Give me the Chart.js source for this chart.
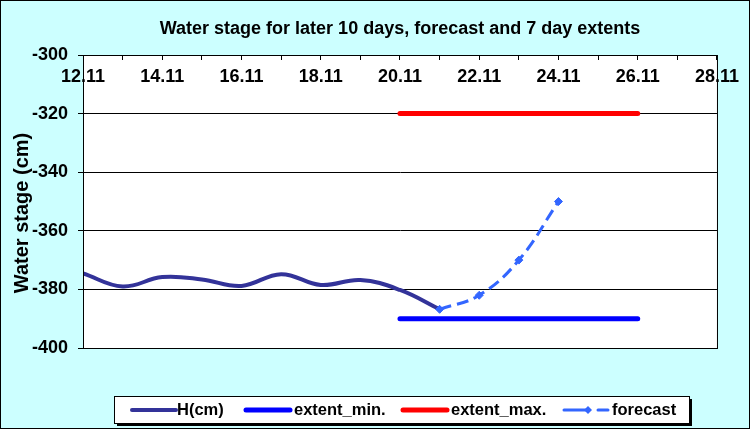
<!DOCTYPE html>
<html>
<head>
<meta charset="utf-8">
<script src="https://cdn.jsdelivr.net/npm/chart.js@4.4.1/dist/chart.umd.min.js"></script>
<style>
body { margin: 0; background: #fff; }
canvas { display: block; }
</style>
</head>
<body>
<canvas id="chart" width="750" height="429"></canvas>
<script>
const FONT = '"Liberation Sans", Arial, sans-serif';

const chartTitle = 'Water stage for later 10 days, forecast and 7 day extents';
const yAxisTitle = 'Water stage (cm)';
const monthLabel = '11';

// observed stage, day of month
const hDays = [12, 13, 14, 15, 16, 17, 18, 19, 20, 21];
const hValues = [-374.5, -379, -375.8, -376.6, -378.8, -374.8, -378.5, -376.8, -380.2, -386.8];

const forecastDays = [21, 22, 23, 24];
const forecastValues = [-386.8, -382, -370, -350];

const extentDays = [20, 26];
const extentMin = [-390, -390];
const extentMax = [-320, -320];

const legendLabels = ['H(cm)', 'extent_min.', 'extent_max.', 'forecast'];

const toPoints = (xs, ys) => xs.map((x, i) => ({ x: x, y: ys[i] }));

const frame = {
	id: 'frame',
	beforeDraw(chart) {
		const { ctx, chartArea: a, width, height } = chart;
		ctx.save();
		ctx.fillStyle = '#CCFFFF';
		ctx.fillRect(0, 0, width, height);
		ctx.fillStyle = '#FFFFFF';
		ctx.fillRect(a.left, a.top, a.right - a.left, a.bottom - a.top);
		ctx.restore();
	},
	afterDraw(chart) {
		const { ctx, chartArea: a, width, height } = chart;
		ctx.save();
		// plot area border
		ctx.strokeStyle = '#000';
		ctx.lineWidth = 1;
		ctx.strokeRect(a.left + 0.5, a.top + 0.5, a.right - a.left, a.bottom - a.top);
		// outer border
		ctx.strokeRect(0.5, 0.5, width - 1, height - 1);

		// title
		ctx.fillStyle = '#000';
		ctx.font = 'bold 18px ' + FONT;
		ctx.textAlign = 'center';
		ctx.textBaseline = 'middle';
		ctx.fillText(chartTitle, 400, 29);

		// y axis title
		ctx.save();
		ctx.translate(22, 213);
		ctx.rotate(-Math.PI / 2);
		ctx.font = 'bold 20px ' + FONT;
		ctx.fillText(yAxisTitle, 0, 0);
		ctx.restore();

		// legend box with shadow
		const lx = 114, ly = 396, lw = 575, lh = 27;
		ctx.fillStyle = '#000';
		ctx.fillRect(lx + 3, ly + 3, lw, lh);
		ctx.fillStyle = '#fff';
		ctx.fillRect(lx, ly, lw, lh);
		ctx.strokeRect(lx + 0.5, ly + 0.5, lw, lh);

		const items = [
			{ x: 132, tx: 177 },
			{ x: 246, tx: 294 },
			{ x: 403, tx: 451 },
			{ x: 564, tx: 612 }
		];
		const cy = 410;
		chart.data.datasets.forEach((ds, i) => {
			const it = items[i];
			ctx.save();
			ctx.strokeStyle = ds.borderColor;
			ctx.lineWidth = ds.borderWidth;
			ctx.lineCap = 'round';
			if (ds.borderDash) ctx.setLineDash([24, 10, 10, 50]);
			ctx.beginPath();
			ctx.moveTo(it.x, cy);
			ctx.lineTo(it.x + 44, cy);
			ctx.stroke();
			if (ds.pointStyle === 'rectRot') {
				ctx.fillStyle = ds.pointBackgroundColor;
				ctx.beginPath();
				ctx.moveTo(it.x + 24, cy - 4);
				ctx.lineTo(it.x + 28, cy);
				ctx.lineTo(it.x + 24, cy + 4);
				ctx.lineTo(it.x + 20, cy);
				ctx.closePath();
				ctx.fill();
			}
			ctx.restore();
			ctx.fillStyle = '#000';
			ctx.font = 'bold 16.5px ' + FONT;
			ctx.textAlign = 'left';
			ctx.textBaseline = 'middle';
			ctx.fillText(legendLabels[i], it.tx, cy);
		});
		ctx.restore();
	}
};

new Chart(document.getElementById('chart'), {
	type: 'line',
	data: {
		datasets: [
			{
				label: legendLabels[0],
				data: toPoints(hDays, hValues),
				borderColor: '#333399',
				borderWidth: 4,
				tension: 0.4,
				pointRadius: 0,
				order: 2
			},
			{
				label: legendLabels[1],
				data: toPoints(extentDays, extentMin),
				borderColor: '#0000FF',
				borderWidth: 5,
				borderCapStyle: 'round',
				pointRadius: 0,
				order: 3
			},
			{
				label: legendLabels[2],
				data: toPoints(extentDays, extentMax),
				borderColor: '#FF0000',
				borderWidth: 5,
				borderCapStyle: 'round',
				pointRadius: 0,
				order: 3
			},
			{
				label: legendLabels[3],
				data: toPoints(forecastDays, forecastValues),
				borderColor: '#3366FF',
				borderWidth: 3,
				borderDash: [12, 6],
				tension: 0.4,
				pointStyle: 'rectRot',
				pointRadius: 4,
				pointBackgroundColor: '#3366FF',
				pointBorderColor: '#3366FF',
				pointBorderWidth: 1,
				order: 1
			}
		]
	},
	options: {
		responsive: false,
		animation: false,
		layout: { padding: { top: 38, right: 33, bottom: 81, left: 0 } },
		plugins: {
			legend: { display: false },
			title: { display: false },
			tooltip: { enabled: false }
		},
		scales: {
			x: {
				type: 'linear',
				position: 'top',
				min: 12,
				max: 28,
				afterFit: (s) => { s.height = 17; },
				grid: { drawOnChartArea: false, tickLength: -5, color: '#000' },
				border: { color: '#000' },
				ticks: {
					stepSize: 1,
					autoSkip: false,
					maxRotation: 0,
					mirror: true,
					padding: 11,
					color: '#000',
					font: { family: FONT, size: 18, weight: 'bold' },
					callback: (v) => (v % 2 === 0 ? v + '.' + monthLabel : '')
				}
			},
			y: {
				min: -400,
				max: -300,
				afterFit: (s) => { s.width = 83; },
				grid: { color: '#000', tickLength: 5 },
				border: { color: '#000' },
				ticks: {
					stepSize: 20,
					padding: 10,
					color: '#000',
					font: { family: FONT, size: 18, weight: 'bold' }
				}
			}
		}
	},
	plugins: [frame]
});
</script>
</body>
</html>
